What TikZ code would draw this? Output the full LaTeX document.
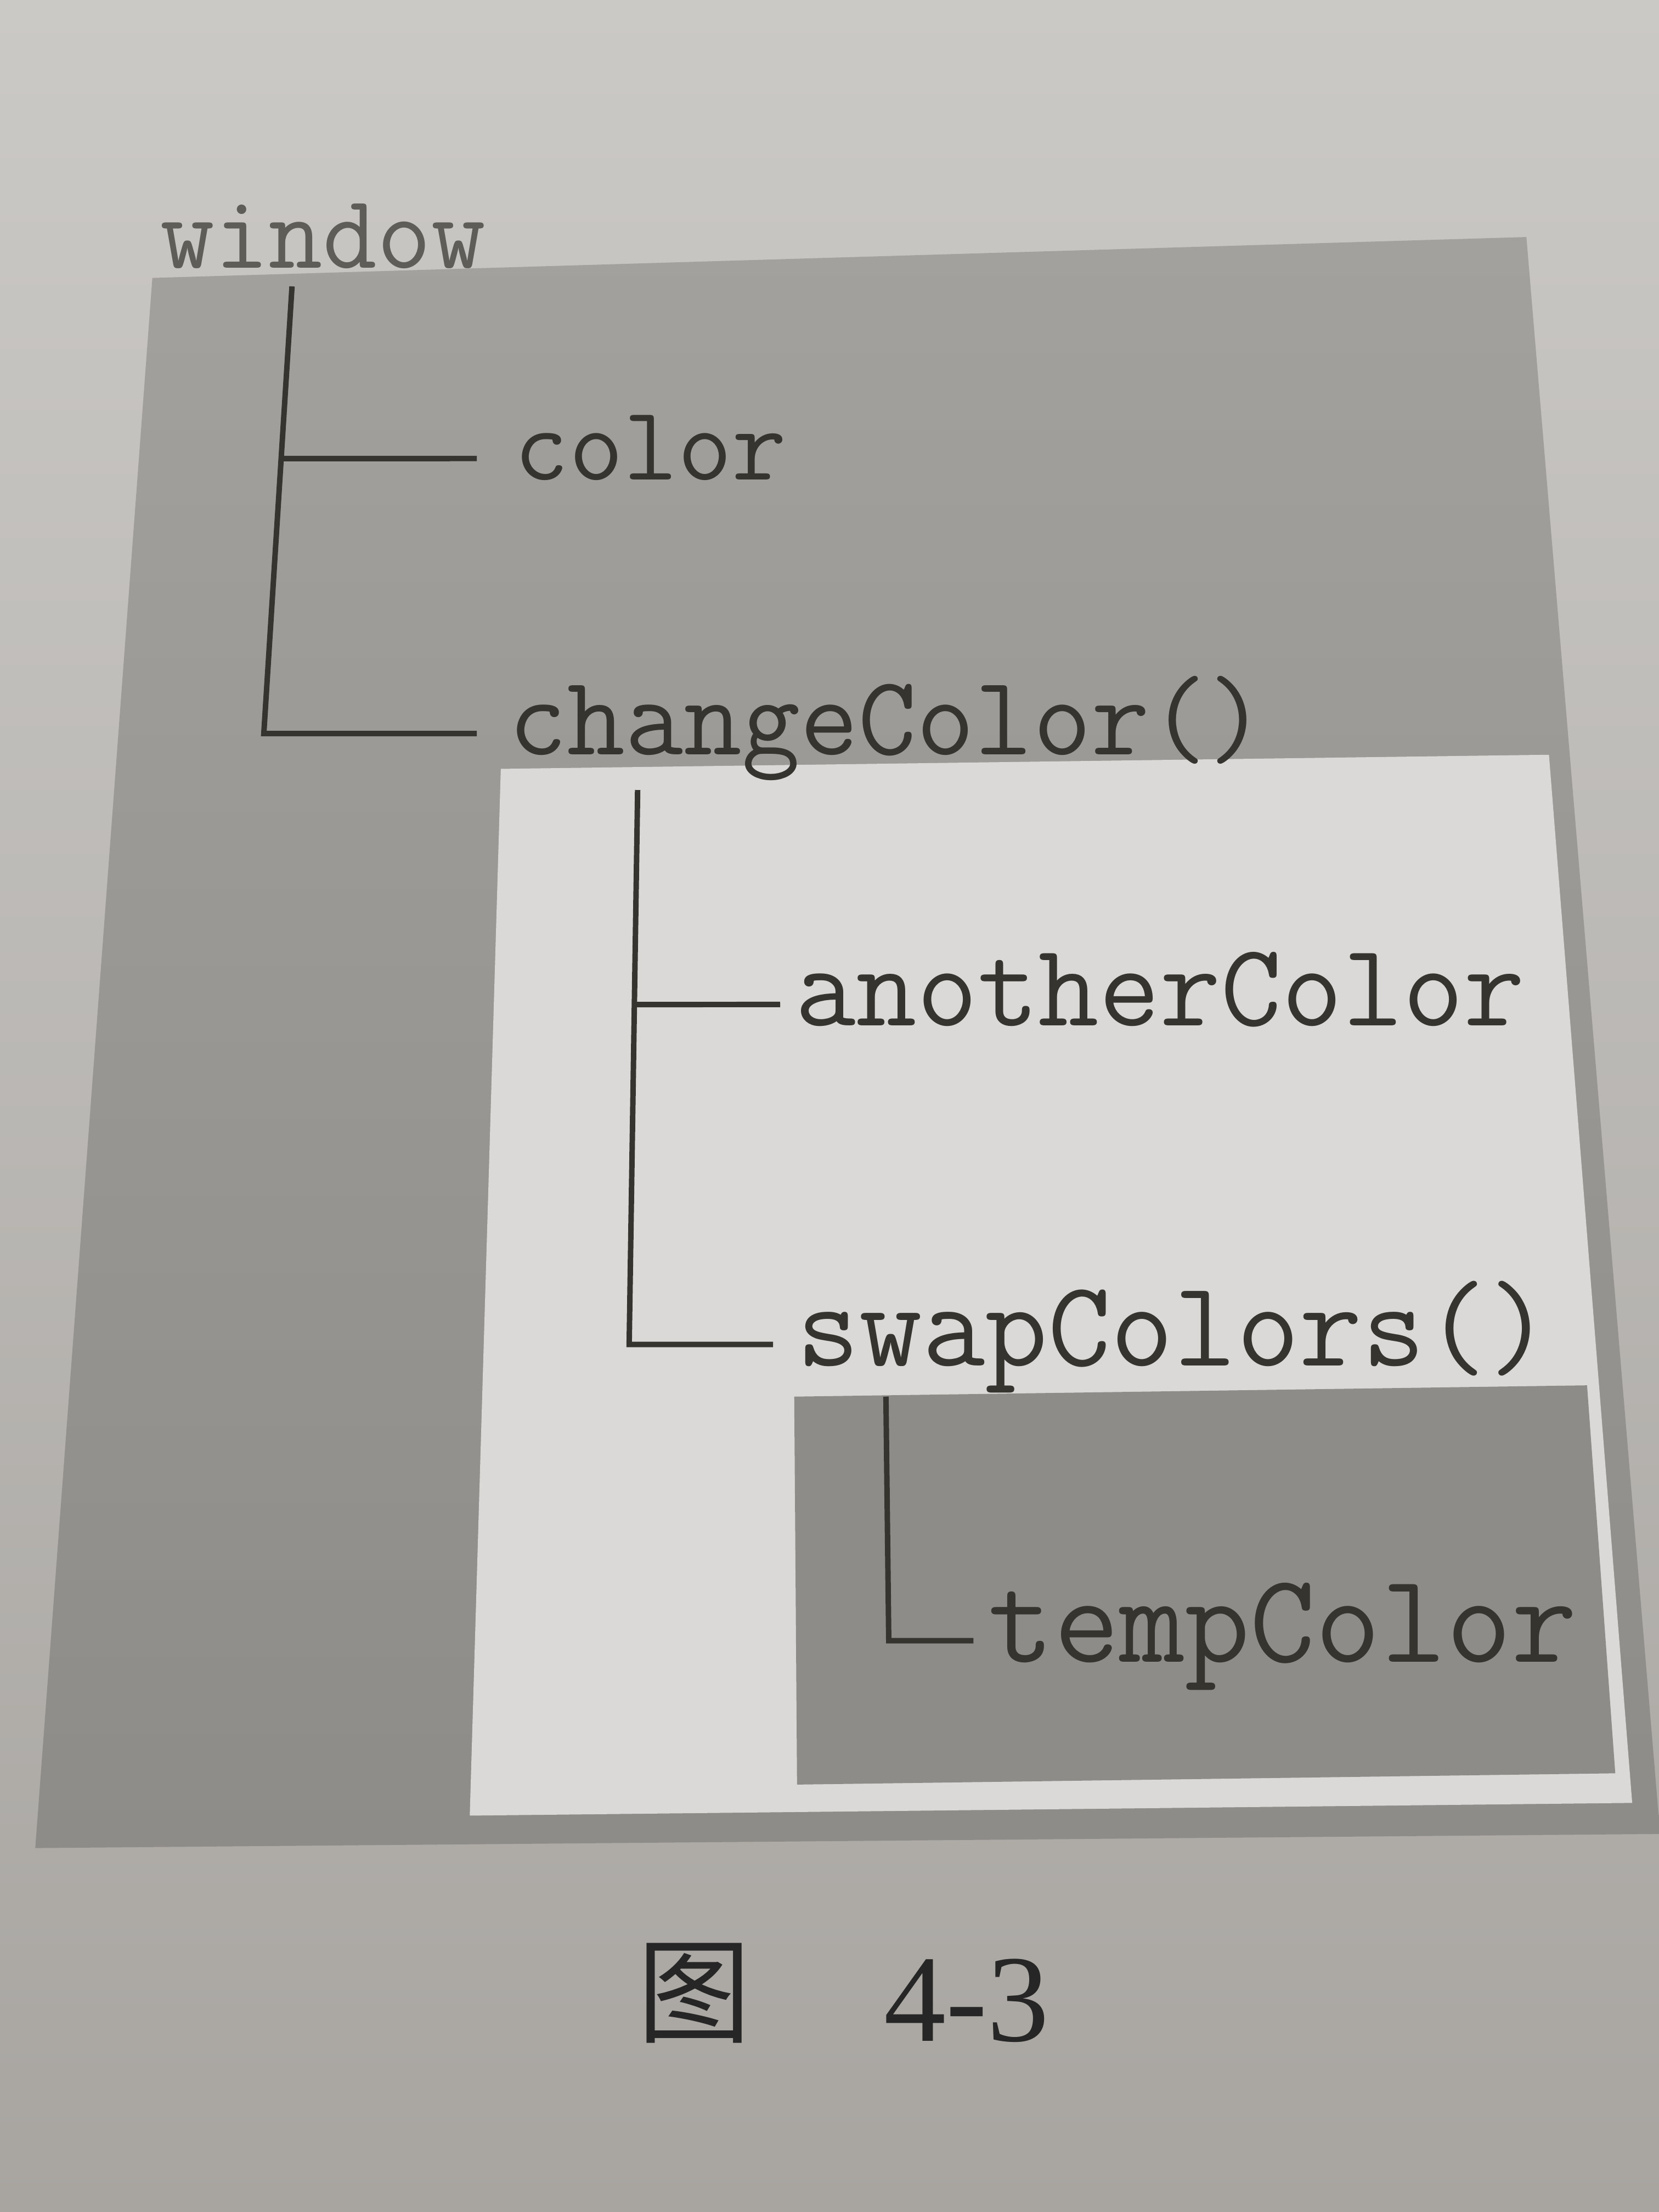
\documentclass[tikz,border=0pt]{standalone}
\usepackage{fontspec}
\setmainfont{Liberation Serif}
\newfontfamily\cjk{Noto Sans CJK SC}
\usetikzlibrary{calc}
\usetikzlibrary{positioning}

\definecolor{paperTop}{HTML}{CBC9C6}
\definecolor{paperBot}{HTML}{A8A5A1}
\definecolor{shadeTop}{HTML}{A3A19E}
\definecolor{shadeBot}{HTML}{8E8C89}
\definecolor{inner}{HTML}{8E8C89}
\definecolor{blank}{HTML}{DAD9D7}
\definecolor{ink}{HTML}{36342F}

\newcommand\codesize[1]{\fontsize{#1}{#1}\selectfont\ttfamily}

\tikzset{
  ident/.style={text=ink, text height=12pt, text depth=3.5pt, inner ysep=0pt, anchor=west},
  branch/.style={draw=ink, line width=1.1pt, line join=miter},
}

\begin{document}
\begin{tikzpicture}[x=0.01cm,y=-0.01cm]
\useasboundingbox (0,0) rectangle (1176,1568);
\shade[top color=paperTop, bottom color=paperBot] (0,0) rectangle (1176,1568);

% scopes
\shade[top color=shadeTop, bottom color=shadeBot] (108,197) -- (1082,168) -- (1176,1290) -- (1176,1300) -- (25,1310) -- cycle;
\fill[blank] (355,545) -- (1098,535) -- (1157,1278) -- (333,1287) -- cycle;
\fill[inner] (563,990) -- (1125,982) -- (1145,1257) -- (565,1265) -- cycle;

% names
\node[text=ink!80, font=\codesize{21.2pt}, anchor=base west, inner sep=0pt] (win) at (113,190) {window};
\node[ident, font=\codesize{21.3pt}, inner xsep=0.26cm] (color) at (338,325) {color};
\node[ident, font=\codesize{22.8pt}, inner xsep=0.22cm] (chg) at (338,520) {changeColor()};
\node[ident, font=\codesize{23.8pt}, inner xsep=0.1cm] (another) at (553,712) {anotherColor};
\node[ident, font=\codesize{24.6pt}, inner xsep=0.16cm] (swap) at (548,953) {swapColors()};
\node[ident, font=\codesize{25.6pt}, inner xsep=0.1cm] (temp) at (690,1163) {tempColor};

% tree lines
\coordinate (wtop) at (207,203);
\coordinate (wbot) at (187,520);
\draw[branch] (wtop) -- (wbot) -- (chg.west);
\draw[branch] ($(wtop)!0.385!(wbot)$) -- (color.west);

\coordinate (ctop) at (452,560);
\coordinate (cbot) at (446,953);
\draw[branch] (ctop) -- (cbot) -- (swap.west);
\draw[branch] ($(ctop)!0.387!(cbot)$) -- (another.west);

\coordinate (stop) at (628,990);
\coordinate (sbot) at (630,1163);
\draw[branch] (stop) -- (sbot) -- (temp.west);

% caption
\node[text=black!85, font=\cjk\fontsize{23pt}{23pt}\selectfont, inner sep=0pt] (figch) at (492,1413) {图};
\node[text=black!85, font=\fontsize{25pt}{25pt}\selectfont, anchor=base west, inner sep=0pt] (fignum) at (626,1447) {4-3};
\end{tikzpicture}
\end{document}
